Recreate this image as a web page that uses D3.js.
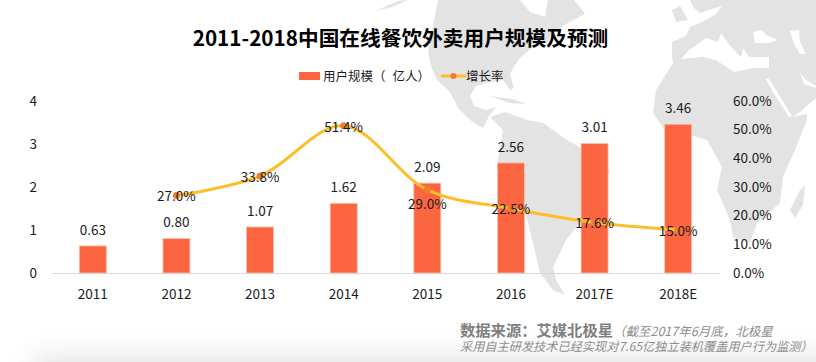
<!DOCTYPE html>
<html>
<head>
<meta charset="utf-8">
<script src="https://cdn.jsdelivr.net/npm/d3@7"></script>
<style>
    html, body { margin: 0; padding: 0; background: #fff; }
    svg { display: block; }
    text { font-family: "Noto Sans CJK SC", "Noto Sans", sans-serif; fill: #1a1a1a; }
    .axis text { font-size: 13.5px; }
</style>
</head>
<body>
<div id="chart"></div>
<script>
// chart values
var years = ['2011', '2012', '2013', '2014', '2015', '2016', '2017E', '2018E']
var users = [0.63, 0.80, 1.07, 1.62, 2.09, 2.56, 3.01, 3.46]
var growth = [null, 27.0, 33.8, 51.4, 29.0, 22.5, 17.6, 15.0]
var leftTicks = [0, 1, 2, 3, 4]
var rightTicks = [0, 10, 20, 30, 40, 50, 60]

// backdrop world map, traced by hand in page pixels
var mapShapes = [
    // sliver top left
    [[375,11],[398,1],[408,0],[392,7]],
    // north america
    [[438,0],[520,0],[530,12],[545,17],[548,0],[574,0],[585,14],[566,24],[552,33],[547,43],[533,47],[520,58],[513,68],[510,74],[514,88],[510,90],[503,80],[490,82],[476,86],[470,96],[474,106],[486,110],[496,107],[489,116],[483,128],[470,120],[458,108],[450,92],[437,80],[431,66],[428,52],[432,30]],
    // caribbean
    [[490,96],[512,99],[528,104],[510,103]],
    // south america
    [[490,117],[505,112],[527,120],[543,123],[567,140],[590,153],[610,170],[602,195],[582,220],[566,240],[560,253],[553,267],[556,280],[565,295],[553,290],[540,273],[533,243],[526,215],[505,190],[497,165],[503,130]],
    // europe, asia and africa as one mass, seas cut out below
    [[672,42],[686,36],[690,27],[700,23],[715,15],[722,6],[712,9],[700,13],[694,8],[690,0],[816,0],[816,98],[800,112],[792,117],[807,114],[807,120],[795,150],[783,177],[780,203],[757,223],[750,243],[733,237],[730,220],[717,190],[722,167],[707,140],[690,135],[667,133],[653,113],[656,90],[673,63],[672,57]],
    // madagascar
    [[805,185],[800,190],[790,210],[795,218],[803,205]],
    // britain
    [[672,10],[680,6],[688,20],[676,22]]
]
var mapHoles = [
    // mediterranean
    [[681,59],[689,50],[706,38],[718,42],[721,33],[731,47],[741,57],[743,48],[749,57],[769,57],[769,68],[753,68],[734,72],[716,60],[703,57]],
    // black sea
    [[753,32],[762,30],[766,35],[778,40],[768,43],[755,43]],
    // caspian
    [[790,31],[799,30],[800,42],[806,54],[800,54],[794,44]],
    // red sea
    [[766,79],[769,79],[776,90],[792,116],[789,117],[773,92]],
    // persian gulf
    [[800,73],[806,80],[816,86],[816,88],[804,84]]
]

var width = 816, height = 362
var margin = { top: 101, right: 96, bottom: 89, left: 51 }
var baseY = height - margin.bottom

var svg = d3.select('#chart').append('svg')
    .attr('width', width)
    .attr('height', height)

// grey shadow along the bottom edge
var defs = svg.append('defs')
defs.append('filter')
    .attr('id', 'soft')
    .attr('x', '-20%').attr('y', '-200%').attr('width', '140%').attr('height', '500%')
    .append('feGaussianBlur')
    .attr('stdDeviation', 14)

svg.append('rect')
    .attr('x', 34).attr('y', 358)
    .attr('width', 900).attr('height', 40)
    .attr('fill', '#e0e0e0')
    .attr('filter', 'url(#soft)')

// map
var mapLine = d3.line().curve(d3.curveLinearClosed)
var map = svg.append('g').classed('map', true)
map.selectAll('path.land')
    .data(mapShapes)
    .enter()
    .append('path')
    .classed('land', true)
    .attr('d', d => mapLine(d))
    .attr('fill', '#e3e3e3')
map.selectAll('path.hole')
    .data(mapHoles)
    .enter()
    .append('path')
    .classed('hole', true)
    .attr('d', d => mapLine(d))
    .attr('fill', '#fff')

// scales
var xScale = d3.scaleBand()
    .domain(years)
    .range([margin.left, width - margin.right])

var yScale = d3.scaleLinear()
    .domain([0, 4])
    .range([baseY, margin.top])

var rateScale = d3.scaleLinear()
    .domain([0, 60])
    .range([baseY, margin.top])

var barWidth = 27
var centre = function(year) { return xScale(year) + xScale.bandwidth() / 2 }

// axes
var xAxis = svg.append('g')
    .classed('x axis', true)
    .attr('transform', 'translate(0 ' + baseY + ')')
    .call(d3.axisBottom(xScale).tickSize(0).tickPadding(12).tickSizeOuter(0))
xAxis.selectAll('.tick text').attr('dy', '1em')
xAxis.select('.domain').attr('stroke', '#d9d9d9').attr('stroke-width', 1.2)

var yAxis = svg.append('g')
    .classed('y axis', true)
    .attr('transform', 'translate(' + margin.left + ' 0)')
    .call(d3.axisLeft(yScale).tickValues(leftTicks).tickSize(0).tickPadding(14).tickFormat(d3.format('d')))
yAxis.select('.domain').remove()

var rateAxis = svg.append('g')
    .classed('y2 axis', true)
    .attr('transform', 'translate(' + (width - margin.right) + ' 0)')
    .call(d3.axisRight(rateScale).tickValues(rightTicks).tickSize(0).tickPadding(13).tickFormat(d => d.toFixed(1) + '%'))
rateAxis.select('.domain').remove()

// bars
svg.append('g').classed('bars', true)
    .selectAll('rect')
    .data(users)
    .enter()
    .append('rect')
    .attr('x', (d, i) => centre(years[i]) - barWidth / 2)
    .attr('y', d => yScale(d))
    .attr('width', barWidth)
    .attr('height', d => baseY - yScale(d))
    .attr('fill', '#fb6640')
    .attr('stroke', '#fcc0ae')
    .attr('stroke-width', 0.8)

// bar values
svg.append('g').classed('bar-labels', true)
    .selectAll('text')
    .data(users)
    .enter()
    .append('text')
    .attr('x', (d, i) => centre(years[i]))
    .attr('y', d => yScale(d) - 16)
    .attr('dy', '0.36em')
    .attr('text-anchor', 'middle')
    .style('font-size', '13.5px')
    .text(d => d.toFixed(2))

// growth line
var rateData = years.map(function(y, i) { return { year: y, rate: growth[i] } })
    .filter(d => d.rate !== null)

var rateLine = d3.line()
    .x(d => centre(d.year))
    .y(d => rateScale(d.rate))
    .curve(d3.curveCatmullRom.alpha(0.5))

svg.append('path')
    .datum(rateData)
    .attr('d', rateLine)
    .attr('fill', 'none')
    .attr('stroke', '#fdbe2d')
    .attr('stroke-width', 3)
    .attr('stroke-linecap', 'round')

svg.append('g').classed('rate-dots', true)
    .selectAll('circle')
    .data(rateData)
    .enter()
    .append('circle')
    .attr('cx', d => centre(d.year))
    .attr('cy', d => rateScale(d.rate))
    .attr('r', 3.5)
    .attr('fill', '#ed7d31')

// 2015 label sits under its point, the others on it
svg.append('g').classed('rate-labels', true)
    .selectAll('text')
    .data(rateData)
    .enter()
    .append('text')
    .attr('x', d => centre(d.year))
    .attr('y', d => rateScale(d.rate) + (d.year === '2015' ? 14 : 1))
    .attr('dy', '0.36em')
    .attr('text-anchor', 'middle')
    .style('font-size', '13.5px')
    .text(d => d.rate.toFixed(1) + '%')

// title
svg.append('text')
    .attr('x', 400.5)
    .attr('y', 46)
    .attr('text-anchor', 'middle')
    .style('font-size', '20.7px')
    .style('font-weight', 700)
    .style('fill', '#000')
    .text('2011-2018中国在线餐饮外卖用户规模及预测')

// legend
var legend = svg.append('g').classed('legend', true)
legend.append('rect')
    .attr('x', 299).attr('y', 72)
    .attr('width', 21).attr('height', 8)
    .attr('fill', '#fb6640')
var legendBar = legend.append('text')
    .attr('x', 323).attr('y', 81)
    .style('font-size', '12.5px')
legendBar.append('tspan').text('用户规模（')
legendBar.append('tspan').attr('dx', 7).text('亿人）')
legend.append('line')
    .attr('x1', 442).attr('x2', 465)
    .attr('y1', 76).attr('y2', 76)
    .attr('stroke', '#fdbe2d')
    .attr('stroke-width', 3)
    .attr('stroke-linecap', 'round')
legend.append('circle')
    .attr('cx', 453.5).attr('cy', 76)
    .attr('r', 3)
    .attr('fill', '#ed7d31')
legend.append('text')
    .attr('x', 466).attr('y', 81)
    .style('font-size', '12.5px')
    .text('增长率')

// source note
var note = svg.append('g').classed('note', true)
var noteFirst = note.append('text')
    .attr('x', 460).attr('y', 336)
noteFirst.append('tspan')
    .style('font-size', '15.3px')
    .style('font-weight', 700)
    .style('fill', '#7f7f7f')
    .text('数据来源：艾媒北极星')
noteFirst.append('tspan')
    .style('font-size', '12.5px')
    .style('font-style', 'italic')
    .style('fill', '#8c8c8c')
    .text('（截至2017年6月底，北极星')
note.append('text')
    .attr('x', 460).attr('y', 351)
    .style('font-size', '12.2px')
    .style('font-style', 'italic')
    .style('fill', '#8c8c8c')
    .text('采用自主研发技术已经实现对7.65亿独立装机覆盖用户行为监测）')
</script>
</body>
</html>
